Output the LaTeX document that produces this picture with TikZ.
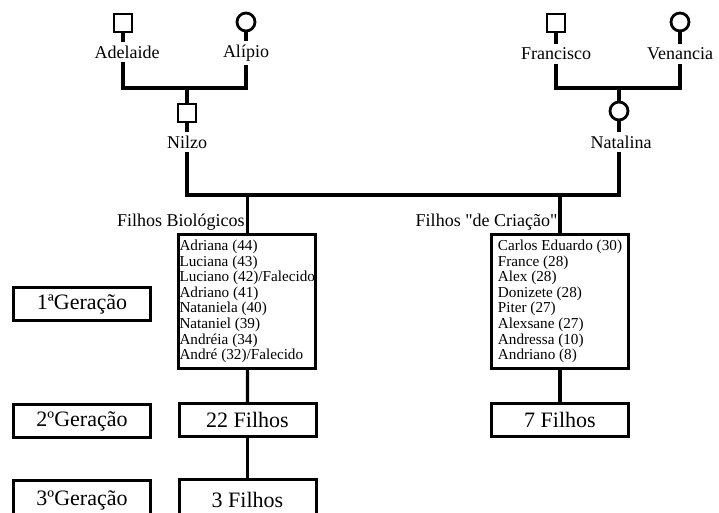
\documentclass[tikz,border=0pt]{standalone}
\usepackage{fontspec}
\setmainfont{Liberation Serif}[Ligatures=TeXOff]

\begin{document}
\begin{tikzpicture}[x=1pt,y=-1pt,line width=3.2pt,
				male/.style={draw,rectangle,minimum size=18pt,inner sep=0pt,line width=2.8pt},
				female/.style={draw,circle,minimum size=18pt,inner sep=0pt,line width=2.8pt},
				nome/.style={font=\fontsize{18}{20}\selectfont,inner sep=2pt},
				lista/.style={draw,line width=3pt,align=left,anchor=north west,minimum height=134pt,
					minimum width=137pt,inner xsep=1pt,font=\fontsize{15.2}{15.6}\selectfont},
				caixa/.style={draw,line width=3pt,minimum width=137pt,minimum height=33pt,
					font=\fontsize{22}{24}\selectfont}]
				\useasboundingbox (0,0) rectangle (719,513);
				% left
				\node[male] (adelaide) at (123,23) {};
				\node[nome] (adelaidelab) at (127,52) {Adelaide};
				\node[female] (alipio) at (246,22) {};
				\node[nome] (alipiolab) at (246,53) {Alípio};
				\coordinate (p1) at (187,88);
				\node[male] (nilzo) at (187,113) {};
				\node[nome] (nilzolab) at (187,142) {Nilzo};
				\draw (adelaide) -- (adelaide |- adelaidelab.north);
				\draw (alipio) -- (alipiolab);
				\draw (adelaide |- adelaidelab.south) |- (p1) -| (alipiolab);
				\draw (p1) -- (nilzo);
				\draw (nilzo) -- (nilzolab);
				% right
				\node[male] (francisco) at (556,23) {};
				\node[nome] (franciscolab) at (556,54) {Francisco};
				\node[female] (venancia) at (680,22) {};
				\node[nome] (venancialab) at (680,54) {Venancia};
				\coordinate (p2) at (619,88);
				\node[female] (natalina) at (619,111) {};
				\node[nome] (natalinalab) at (621,142) {Natalina};
				\draw (francisco) -- (franciscolab);
				\draw (venancia) -- (venancialab);
				\draw (franciscolab) |- (p2) -| (venancialab);
				\draw (p2) -- (natalina);
				\draw (natalina) -- (natalina |- natalinalab.north);
				% children
				\coordinate (p3) at (400,195);
				\draw (nilzolab) |- (p3) -| (natalina |- natalinalab.south);
				\node[lista] (bio) at (177,233) {Adriana (44)\\Luciana (43)\\Luciano (42)/Falecido\\Adriano (41)\\Nataniela (40)\\Nataniel (39)\\Andréia (34)\\André (32)/Falecido};
				\node[lista] (cria) at (490,233) {Carlos Eduardo (30)\\France (28)\\Alex (28)\\Donizete (28)\\Piter (27)\\Alexsane (27)\\Andressa (10)\\Andriano (8)};
				\node[nome,anchor=south east,inner sep=1pt] (biolab) at (bio.north) {Filhos Biológicos};
				\node[nome,anchor=south east,inner sep=1pt] (crialab) at (cria.north) {Filhos "de Criação"};
				\draw (bio) -- (bio |- p3);
				\draw (cria) -- (cria |- p3);
				\node[caixa] (bio2) at (247.5,420) {22 Filhos};
				\node[caixa,anchor=north,minimum height=40pt] (bio3) at (247.5,478) {3 Filhos};
				\node[caixa] (cria2) at (560,420) {7 Filhos};
				\draw (bio) -- (bio2);
				\draw (bio2) -- (bio3);
				\draw (cria) -- (cria2);
				% generations
				\node[caixa] (ger1) at (82,304) {1ªGeração};
				\node[caixa] (ger2) at (82,421) {2ºGeração};
				\node[caixa,anchor=north,minimum height=40pt] (ger3) at (82,479) {3ºGeração};
			\end{tikzpicture}
\end{document}
